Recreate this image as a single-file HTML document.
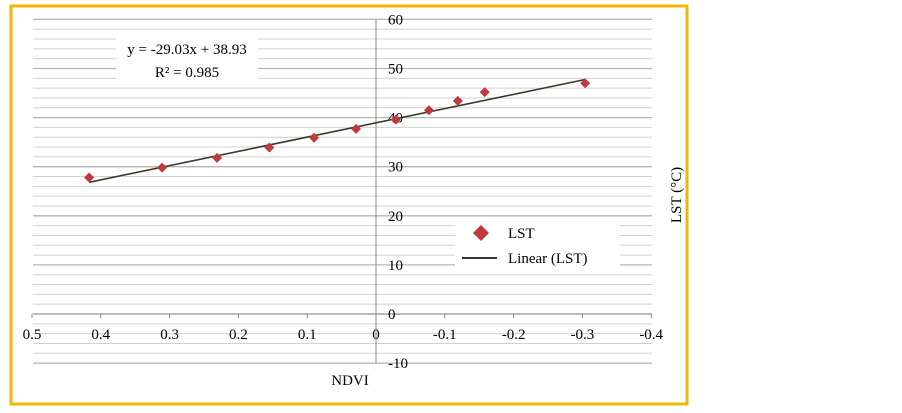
<!DOCTYPE html>
<html><head><meta charset="utf-8"><style>
body{margin:0;background:#fff;width:902px;height:413px;overflow:hidden}
svg{display:block;font-family:"Liberation Serif",serif}
</style></head><body>
<svg width="902" height="413" viewBox="0 0 902 413">
<rect x="11" y="6" width="676" height="398" fill="#fff" stroke="#f2b705" stroke-width="3"/>
<g id="grid"></g>
<g id="axes"></g>
<g id="trend"></g>
<g id="pts"></g>
<g>
<rect x="116" y="38" width="142" height="42" fill="#fff"/>
<text x="187" y="54" font-size="15" text-anchor="middle">y = -29.03x + 38.93</text>
<text x="187" y="77" font-size="15" text-anchor="middle">R² = 0.985</text>
</g>
<g>
<rect x="455" y="222" width="165" height="46" fill="#fff"/>
<path d="M481 225 L489 233 L481 241 L473 233 Z" fill="#c0393b"/>
<text x="508" y="238" font-size="15">LST</text>
<line x1="462" y1="258" x2="497" y2="258" stroke="#333" stroke-width="2"/>
<text x="508" y="263" font-size="15">Linear (LST)</text>
</g>
<text x="350" y="385" font-size="15" text-anchor="middle">NDVI</text>
<text transform="translate(681,195) rotate(-90)" font-size="15" text-anchor="middle">LST (°C)</text>
</svg>
<script>
const ndvi=[0.417,0.311,0.231,0.155,0.090,0.029,-0.029,-0.077,-0.119,-0.158,-0.304];
const lst=[27.8,29.8,31.8,33.9,35.9,37.7,39.6,41.5,43.4,45.2,47.0];
const xTicks=[0.5,0.4,0.3,0.2,0.1,0,-0.1,-0.2,-0.3,-0.4];
const yTicks=[60,50,40,30,20,10,0,-10];
const slope=-29.03, intercept=38.93;
const NS='http://www.w3.org/2000/svg';
const X=v=>376-(v)*688;
const Y=v=>314-v*4.91;
function mk(t,a,p){const e=document.createElementNS(NS,t);for(const k in a)e.setAttribute(k,a[k]);p.appendChild(e);return e;}
const grid=document.getElementById('grid'),axes=document.getElementById('axes');
for(let v=-10;v<=60;v+=2){
 const l=mk('line',{x1:33,x2:652,y1:Y(v),y2:Y(v),stroke:v%10===0?'#b5b5b5':'#d0d0d0','stroke-width':v%10===0?1.3:1},grid);
 
 
}
const va=mk('line',{x1:X(0),x2:X(0),y1:Y(60),y2:Y(-10),stroke:'#888','stroke-width':1},axes);


const ha=mk('line',{x1:33,x2:652,y1:Y(0),y2:Y(0),stroke:'#888','stroke-width':1},axes);


yTicks.forEach(v=>{const t=mk('text',{x:X(0)+12,y:Y(v)+5,'font-size':15},axes);t.textContent=v;
 
 });
xTicks.forEach(v=>{const tk=mk('line',{x1:X(v),x2:X(v),y1:Y(0),y2:Y(0)+4,stroke:'#888'},axes);
 
 
 const t=mk('text',{x:X(v),y:Y(0)+25,'font-size':15,'text-anchor':'middle'},axes);t.textContent=v;
 
 });
const x0=Math.max(...ndvi),x1=Math.min(...ndvi);
const tl=mk('line',{x1:X(x0),y1:Y(slope*x0+intercept),x2:X(x1),y2:Y(slope*x1+intercept),stroke:'#3a3a2a','stroke-width':1.6},document.getElementById('trend'));


const pts=document.getElementById('pts');
ndvi.forEach((v,i)=>{const cx=X(v),cy=Y(lst[i]);
 const p=mk('path',{d:`M${cx} ${cy-5}L${cx+5} ${cy}L${cx} ${cy+5}L${cx-5} ${cy}Z`,fill:'#c0393b'},pts);
 
 });
</script>
</body></html>
